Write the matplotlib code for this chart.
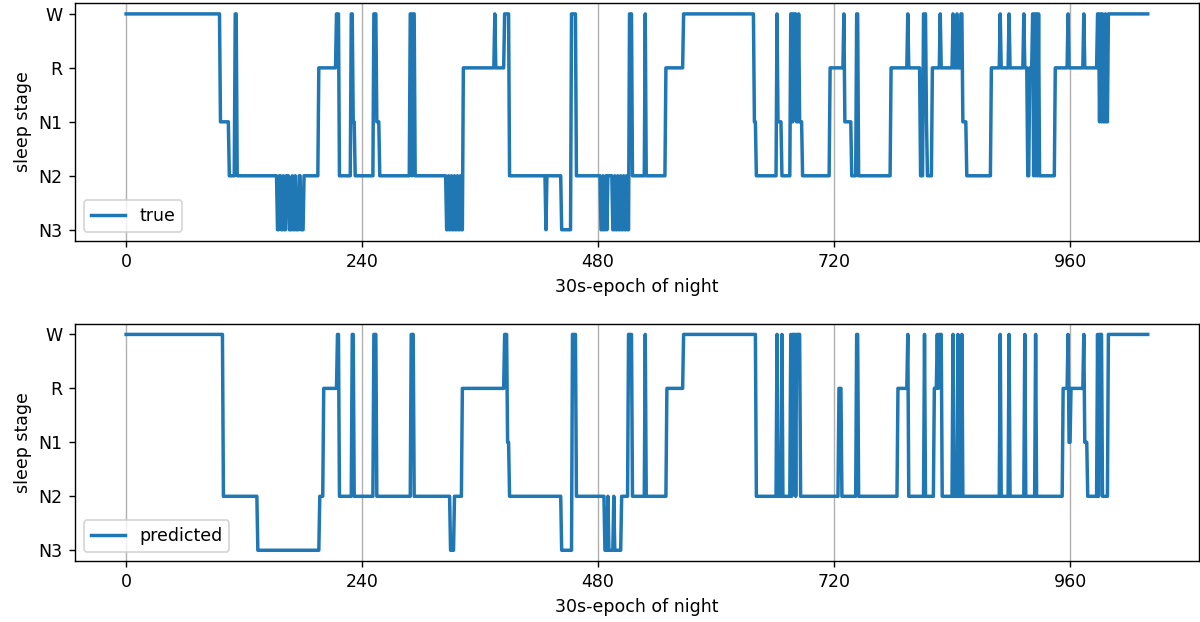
import numpy as np
import matplotlib
matplotlib.use("Agg")
import matplotlib.pyplot as plt

# hypnograms as (start epoch, stage) change points
n_epochs = 1040
stage_names = ["N3", "N2", "N1", "R", "W"]

true_starts = [0, 96, 105, 111, 113, 154, 156, 158, 160, 161, 163, 166, 169, 170, 172, 173, 176, 178, 181,
               196, 214, 217, 229, 231, 233, 252, 255, 258, 289, 291, 292, 294,
               326, 328, 329, 331, 332, 334, 335, 337, 338, 340, 341, 343, 375, 376, 385, 390,
               427, 428, 443, 453, 458,
               483, 485, 486, 488, 489, 490, 495, 497, 498, 500, 501, 503, 504, 506, 507, 509, 510, 512, 515, 528, 529,
               549, 567, 639, 641, 662, 663, 667, 676, 678, 679, 682, 684, 685, 688,
               716, 730, 731, 738, 743, 745, 778, 795, 796, 808, 811, 814, 815, 820,
               828, 829, 841, 842, 845, 846, 849, 851, 855, 880, 889, 890, 898, 899, 913, 914,
               917, 919, 922, 923, 924, 925, 926, 927, 928, 929, 945, 958, 959, 974, 975,
               988, 990, 991, 992, 993, 994, 996, 997, 999, 1000]
true_stages = ["W", "N1", "N2", "W", "N2", "N3", "N2", "N3", "N2", "N3", "N2", "N3", "N2", "N3", "N2", "N3", "N2", "N3", "N2",
               "R", "W", "N2", "W", "N1", "N2", "W", "N1", "N2", "W", "N2", "W", "N2",
               "N3", "N2", "N3", "N2", "N3", "N2", "N3", "N2", "N3", "N2", "N3", "R", "W", "R", "W", "N2",
               "N3", "N2", "N3", "W", "N2",
               "N3", "N2", "N3", "N2", "N3", "N2", "N3", "N2", "N3", "N2", "N3", "N2", "N3", "N2", "N3", "N2", "N3", "W", "N2", "W", "N2",
               "R", "W", "N1", "N2", "W", "N1", "N2", "W", "N1", "W", "N1", "W", "N1", "N2",
               "R", "W", "N1", "N2", "W", "N2", "R", "W", "R", "N2", "W", "N1", "N2", "R",
               "W", "R", "W", "R", "W", "R", "W", "N1", "N2", "R", "W", "R", "W", "R", "W", "R",
               "N2", "R", "W", "N2", "W", "N2", "W", "N2", "W", "N2", "R", "W", "R", "W", "R",
               "W", "N1", "W", "N1", "W", "N1", "W", "N1", "W", "W"]

pred_starts = [0, 99, 134, 197, 201, 215, 217, 230, 232, 252, 255, 290, 293, 330, 334, 342,
               385, 388, 390, 443, 454, 458, 487, 490, 491, 496, 497, 504, 511, 515, 528, 529,
               550, 567, 641, 662, 663, 667, 668, 676, 677, 678, 681, 682, 686,
               725, 728, 743, 745, 785, 795, 796, 812, 813, 822, 825, 826, 827, 830,
               841, 842, 846, 847, 850, 851, 889, 890, 898, 899, 914, 915, 925, 926,
               953, 958, 959, 961, 974, 975, 978, 988, 989, 990, 993, 999]
pred_stages = ["W", "N2", "N3", "N2", "R", "W", "N2", "W", "N2", "W", "N2", "W", "N2", "N3", "N2", "R",
               "W", "N1", "N2", "N3", "W", "N2", "N3", "N2", "N3", "N2", "N3", "N2", "W", "N2", "W", "N2",
               "R", "W", "N2", "W", "N2", "W", "N2", "W", "N2", "W", "N2", "W", "N2",
               "R", "N2", "W", "N2", "R", "W", "N2", "W", "N2", "R", "W", "R", "W", "N2",
               "W", "N2", "W", "N2", "W", "N2", "W", "N2", "W", "N2", "W", "N2", "W", "N2",
               "R", "W", "N1", "R", "W", "N1", "N2", "W", "N2", "W", "N2", "W"]


def expand(starts, stages):
    lengths = np.diff(starts + [n_epochs])
    codes = [stage_names.index(s) for s in stages]
    return np.repeat(codes, lengths)


hyp_true = expand(true_starts, true_stages)
hyp_pred = expand(pred_starts, pred_stages)

fig, axes = plt.subplots(2, 1, figsize=(9.6, 4.976), dpi=125)
fig.subplots_adjust(left=0.0625, right=0.999, top=0.995, bottom=0.098, hspace=0.35)

for ax, hyp, lab in zip(axes, [hyp_true, hyp_pred], ["true", "predicted"]):
    ax.plot(np.arange(len(hyp)), hyp, label=lab, lw=2)
    ax.set_yticks(range(5))
    ax.set_yticklabels(stage_names)
    ax.set_xticks(np.arange(0, 1000, 240))
    ax.grid(axis="x")
    ax.set_xlabel("30s-epoch of night")
    ax.set_ylabel("sleep stage")
    ax.legend(loc="lower left")

fig.savefig("out.png")
